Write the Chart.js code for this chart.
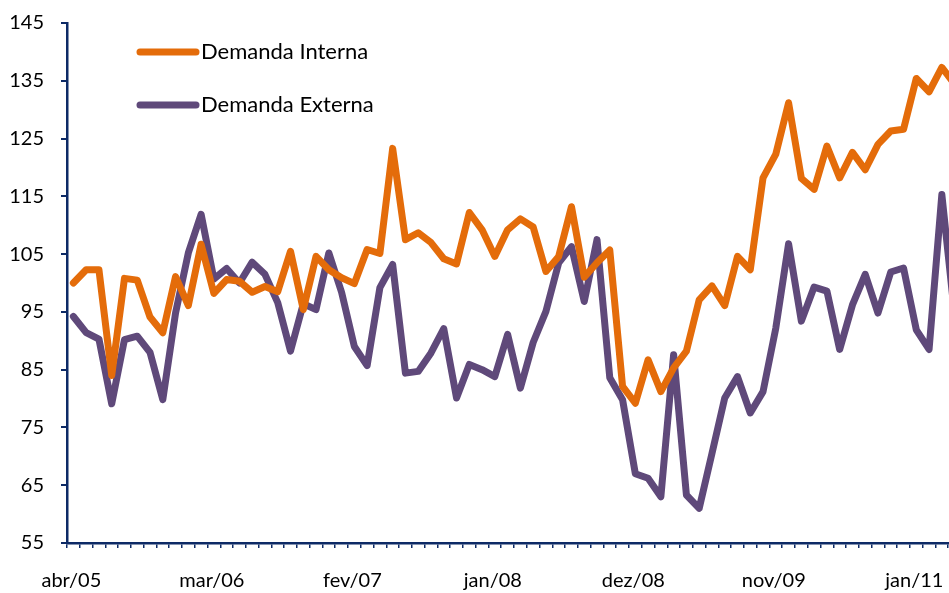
<!DOCTYPE html>
<html>
<head>
<meta charset="utf-8">
<script src="https://cdn.jsdelivr.net/npm/chart.js@4.4.1/dist/chart.umd.min.js"></script>
<style>
  html, body { margin: 0; padding: 0; background: #fff; overflow: hidden; }
  #grafico { display: block; }
</style>
</head>
<body>
<canvas id="grafico" width="966" height="593"></canvas>
<script>
// labels shown on the category axis, one every 11 months
const tickLabels = ['abr/05', 'mar/06', 'fev/07', 'jan/08', 'dez/08', 'nov/09', 'jan/11'];

const demandaInterna = [
  100.0, 102.3, 102.3, 84.0, 100.8, 100.5, 94.1, 91.4, 101.1, 96.1,
  106.7, 98.2, 100.6, 100.3, 98.4, 99.4, 98.5, 105.5, 95.4, 104.6,
  102.3, 100.9, 99.9, 105.8, 105.1, 123.3, 107.5, 108.7, 107.0, 104.2,
  103.3, 112.2, 109.2, 104.6, 109.2, 111.1, 109.7, 102.0, 104.6, 113.2,
  101.0, 103.5, 105.7, 82.1, 79.2, 86.7, 81.2, 85.3, 88.2, 97.1,
  99.5, 96.1, 104.6, 102.3, 118.2, 122.3, 131.2, 118.1, 116.2, 123.7,
  118.2, 122.6, 119.6, 124.0, 126.3, 126.6, 135.4, 133.1, 137.3, 134.4
];

const demandaExterna = [
  94.2, 91.4, 90.3, 79.1, 90.2, 90.8, 88.0, 79.8, 94.8, 105.2,
  111.9, 100.7, 102.5, 100.0, 103.6, 101.5, 96.6, 88.2, 96.4, 95.4,
  105.2, 98.4, 89.0, 85.7, 99.2, 103.2, 84.4, 84.7, 87.9, 92.1,
  80.1, 85.9, 85.0, 83.8, 91.1, 81.8, 89.7, 95.1, 103.5, 106.3,
  96.8, 107.5, 83.6, 79.8, 67.0, 66.2, 63.0, 87.6, 63.3, 61.0,
  70.5, 80.1, 83.8, 77.5, 81.2, 92.2, 106.8, 93.4, 99.3, 98.6,
  88.5, 96.2, 101.5, 94.8, 101.9, 102.6, 91.9, 88.5, 115.3, 94.4
];

const categorias = demandaInterna.map((v, i) => i);

(function(){
    const grafico = document.getElementById('grafico');
    const corEixo = '#0d2a66';
    const fonte = 'Lato, "Open Sans", sans-serif';

    // legend drawn inside the plot area, stacked like the original
    const legendaInterna = {
        id: 'legendaInterna',
        afterDatasetsDraw(chart) {
            const ctx = chart.ctx;
            ctx.save();
            chart.data.datasets.forEach((ds, i) => {
                const y = 52 + i * 53;
                ctx.strokeStyle = ds.borderColor;
                ctx.lineWidth = 7;
                ctx.lineCap = 'round';
                ctx.beginPath();
                ctx.moveTo(140, y);
                ctx.lineTo(196, y);
                ctx.stroke();
                ctx.fillStyle = '#000';
                ctx.font = '22px ' + fonte;
                ctx.textBaseline = 'middle';
                ctx.textAlign = 'left';
                ctx.fillText(ds.label, 201, y);
            });
            ctx.restore();
        }
    };

    const config = {
        type: 'line',
        data: {
            labels: categorias,
            datasets: [
                {
                    label: 'Demanda Interna',
                    data: demandaInterna,
                    borderColor: '#e46c0a',
                    borderWidth: 7,
                    borderJoinStyle: 'round',
                    borderCapStyle: 'round',
                    pointRadius: 0,
                    tension: 0
                },
                {
                    label: 'Demanda Externa',
                    data: demandaExterna,
                    borderColor: '#5f497a',
                    borderWidth: 7,
                    borderJoinStyle: 'round',
                    borderCapStyle: 'round',
                    pointRadius: 0,
                    tension: 0
                }
            ]
        },
        options: {
            responsive: false,
            animation: false,
            layout: { padding: { top: 23, right: 5, left: 0, bottom: 0 } },
            plugins: {
                legend: { display: false },
                tooltip: { enabled: false }
            },
            scales: {
                x: {
                    type: 'category',
                    offset: true,
                    grid: {
                        offset: true,
                        drawOnChartArea: false,
                        color: corEixo,
                        lineWidth: 1.5,
                        tickLength: 5
                    },
                    border: { color: corEixo, width: 2.5 },
                    ticks: {
                        autoSkip: false,
                        maxRotation: 0,
                        padding: 21,
                        labelOffset: -2,
                        color: '#000',
                        font: { family: fonte, size: 20 },
                        callback: function(val, idx) {
                            return idx % 11 === 0 ? (tickLabels[idx / 11] || '') : '';
                        }
                    },
                    afterFit: function(scale) {
                        scale.height = 50;
                        scale.paddingLeft = 0;
                        scale.paddingRight = 0;
                    }
                },
                y: {
                    min: 55,
                    max: 145,
                    grid: {
                        drawOnChartArea: false,
                        color: corEixo,
                        lineWidth: 2,
                        tickLength: 6
                    },
                    border: { color: corEixo, width: 2.5 },
                    ticks: {
                        stepSize: 10,
                        padding: 17,
                        color: '#000',
                        font: { family: fonte, size: 20 }
                    },
                    afterFit: function(scale) {
                        scale.width = 67;
                        scale.paddingTop = 0;
                        scale.paddingBottom = 0;
                    }
                }
            }
        },
        plugins: [legendaInterna]
    };

    new Chart(grafico, config);
})();
</script>
</body>
</html>
